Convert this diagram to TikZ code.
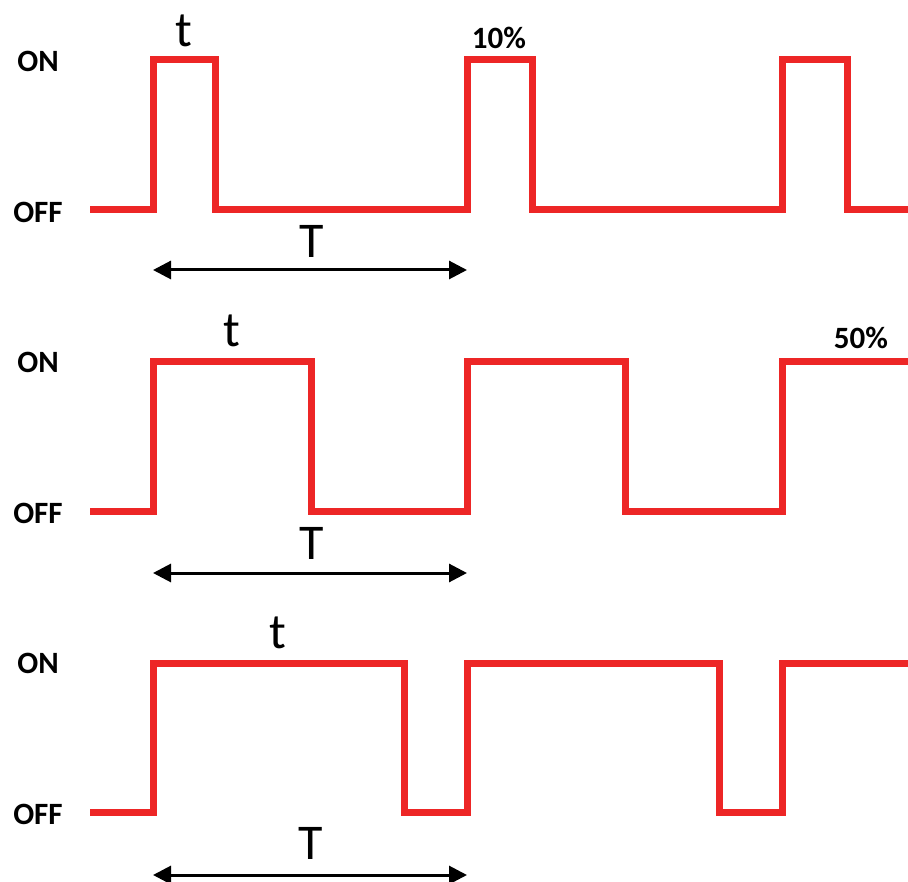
\documentclass[tikz,border=0pt]{standalone}
\usepackage{fontspec}
\setmainfont{Carlito}
\usetikzlibrary{arrows.meta}
\definecolor{sigred}{RGB}{237,38,38}

\begin{document}
\begin{tikzpicture}[x=1pt,y=-1pt,
  wave/.style={sigred, line width=7pt, miter limit=10},
  lvl/.style={font=\fontsize{31}{31}\selectfont\bfseries},
  pct/.style={anchor=base, font=\fontsize{31}{31}\selectfont\bfseries},
  per/.style={anchor=base, font=\fontsize{50}{50}\selectfont},
  span/.style={black, line width=3pt, {Triangle[length=18pt,width=18pt]}-{Triangle[length=18pt,width=18pt]}}]

\useasboundingbox (0,0) rectangle (908,882);

% 10% duty
\node[lvl] (on1) at (38,61) {ON};
\node[lvl] (off1) at (38,212) {OFF};
\draw[wave] (90,210) -- (153,210) -- (153,60) -- (215,60) -- (215,210) -- (467,210) -- (467,60) -- (532,60) -- (532,210) -- (782,210) -- (782,60) -- (847,60) -- (847,210) -- (908,210);
\node[per] (tA) at (184,47) {t};
\node[pct] (pA) at (499,49) {10\%};
\node[per] (TA) at (312,258) {T};
\coordinate (a1) at (153,270);
\coordinate (b1) at (467,270);
\draw[span] (a1) -- (b1);

% 50% duty
\node[lvl] (on2) at (38,362) {ON};
\node[lvl] (off2) at (38,513) {OFF};
\draw[wave] (90,511) -- (153,511) -- (153,362) -- (311,362) -- (311,511) -- (467,511) -- (467,362) -- (625,362) -- (625,511) -- (782,511) -- (782,362) -- (908,362);
\node[per] (tB) at (232,347) {t};
\node[pct] (pB) at (861,349) {50\%};
\node[per] (TB) at (312,559) {T};
\coordinate (a2) at (153,573);
\coordinate (b2) at (467,573);
\draw[span] (a2) -- (b2);

% 80% duty
\node[lvl] (on3) at (38,663) {ON};
\node[lvl] (off3) at (38,814) {OFF};
\draw[wave] (90,812) -- (153,812) -- (153,663) -- (404,663) -- (404,812) -- (467,812) -- (467,663) -- (719,663) -- (719,812) -- (782,812) -- (782,663) -- (908,663);
\node[per] (tC) at (278,648) {t};
\node[per] (TC) at (311,859) {T};
\coordinate (a3) at (153,875);
\coordinate (b3) at (467,875);
\draw[span] (a3) -- (b3);

\end{tikzpicture}
\end{document}
